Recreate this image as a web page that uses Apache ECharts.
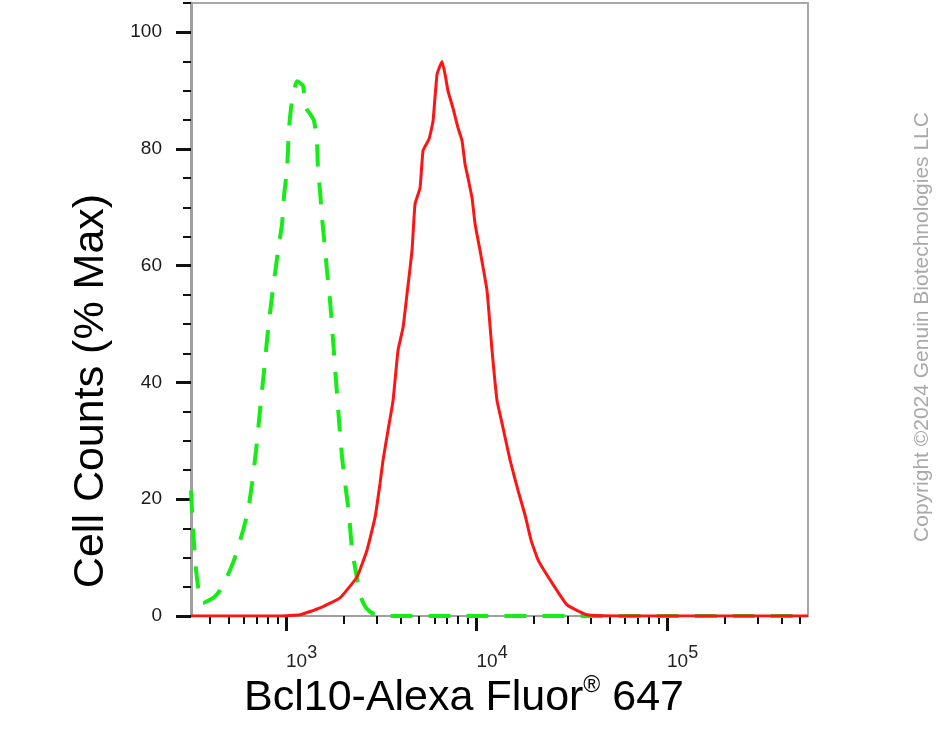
<!DOCTYPE html>
<html>
<head>
<meta charset="utf-8">
<script src="https://cdn.jsdelivr.net/npm/echarts@6/dist/echarts.min.js"></script>
<style>
html,body{margin:0;padding:0;background:#fff;}
#chart{width:951px;height:730px;}
</style>
</head>
<body>
<div id="chart"></div>
<script>
// Red (stained) histogram: fluorescence intensity vs % max
const redX = [317,508,930,1184,1508,1920,2359,2662,2933,3114,3230,3430,3645,3871,4113,4317,4585,4755,5051,5238,5632,5912,6205,6592,6834,7086,7524,7997,8393,8702,9025,9471,9820,10433,11353,12061,12811,13614,14997,16513,17973,19322,21028,24310,29860,38030,56650,148900,549600];
const redY = [0,0,0,0.2,1.4,3.1,6.7,11.3,16.9,22.7,26.7,31.8,36.9,45.5,49.4,55.2,62.6,70.6,73.3,79.7,81.7,84.8,92.8,95.0,92.8,89.9,87.0,83.6,81.4,77.4,75.0,71.6,67.2,62.6,55.7,45.5,36.9,33.0,26.7,21.5,17.3,13.0,9.6,6.2,1.9,0.2,0,0,0];
// Green (control) histogram
const greenX = [317,325,337,349,367,390,419,450,490,540,595,632,663,696,730,767,804,845,886,919,953,976,1012,1037,1075,1142,1184,1228,1274,1337,1403,1454,1471,1508,1545,1583,1641,1702,1765,1830,1897,1968,2065,2142,2221,2331,2447,2630,2933,3967,549600];
const greenY = [21.5,14.7,7.9,4.1,2.2,2.6,3.2,4.4,6.7,10.1,14.7,18.1,22.7,28.4,35.2,42.1,48.9,54.9,60.0,63.8,67.2,72.0,76.6,83.6,88.2,91.6,91.3,90.8,87.0,86.0,84.8,80.9,76.6,72.8,68.2,64.6,59.1,54.0,47.2,40.3,33.5,27.2,21.5,17.3,11.3,7.4,3.6,1.4,0.2,0,0];
// Axis ticks
const xMajorTicks = [1000, 10000, 100000];
const xMinorTicks = [400,500,600,700,800,900,2000,3000,4000,5000,6000,7000,8000,9000,20000,30000,40000,50000,60000,70000,80000,90000,200000,300000,400000,500000];
const yMajorTicks = [0, 20, 40, 60, 80, 100];
const yMinorTicks = [5,10,15,25,30,35,45,50,55,65,70,75,85,90,95,105];
const xMin = 317, xMax = 549600, yMin = 0, yMax = 105;
const xTitle = 'Bcl10-Alexa Fluor';
const yTitle = 'Cell Counts (% Max)';
const copyright = 'Copyright \u00A92024 Genuin Biotechnologies LLC';

const FONT = '"Liberation Sans", Arial, Helvetica, sans-serif';
const chart = echarts.init(document.getElementById('chart'), null, {renderer: 'canvas'});

const pairs = (xs, ys) => xs.map((x, i) => [x, ys[i]]);

const option = {
  animation: false,
  backgroundColor: '#ffffff',
  grid: {
    left: 191, top: 3, right: 143, bottom: 114,
    show: true, borderColor: '#a8a8a8', borderWidth: 2, backgroundColor: 'transparent'
  },
  xAxis: [
    {
      type: 'log', logBase: 10, min: xMin, max: xMax, position: 'bottom',
      axisLine: {show: true, lineStyle: {color: '#a0a0a0', width: 2}},
      axisTick: {show: true, customValues: xMajorTicks, length: 15, lineStyle: {color: '#111', width: 3}},
      axisLabel: {
        show: true, customValues: xMajorTicks, margin: 28, align: 'left',
        formatter: v => '{b|10}{s|' + Math.round(Math.log10(v)) + '}',
        rich: {
          b: {fontFamily: FONT, fontSize: 19, color: '#222', lineHeight: 27, verticalAlign: 'bottom'},
          s: {fontFamily: FONT, fontSize: 18, color: '#222', verticalAlign: 'top'}
        }
      },
      splitLine: {show: false}
    },
    {
      type: 'log', logBase: 10, min: xMin, max: xMax, position: 'bottom',
      axisLine: {show: false},
      axisTick: {show: true, customValues: xMinorTicks, length: 8, lineStyle: {color: '#111', width: 2}},
      axisLabel: {show: false},
      splitLine: {show: false}
    }
  ],
  yAxis: [
    {
      type: 'value', min: yMin, max: yMax, interval: 20, position: 'left',
      axisLine: {show: true, lineStyle: {color: '#a0a0a0', width: 3}},
      axisTick: {show: true, customValues: yMajorTicks, length: 15, lineStyle: {color: '#111', width: 3}},
      axisLabel: {show: true, customValues: yMajorTicks, margin: 29, fontFamily: FONT, fontSize: 19, color: '#1a1a1a'},
      splitLine: {show: false}
    },
    {
      type: 'value', min: yMin, max: yMax, interval: 5, position: 'left',
      axisLine: {show: false},
      axisTick: {show: true, customValues: yMinorTicks, length: 8, lineStyle: {color: '#111', width: 2}},
      axisLabel: {show: false},
      splitLine: {show: false}
    }
  ],
  series: [
    {
      type: 'line', xAxisIndex: 0, yAxisIndex: 0,
      data: pairs(greenX, greenY), showSymbol: false, smooth: 0.2,
      lineStyle: {color: '#16ec16', width: 4, type: [22, 16]}, z: 3
    },
    {
      type: 'line', xAxisIndex: 0, yAxisIndex: 0,
      data: pairs(redX, redY), showSymbol: false, smooth: 0.12,
      lineStyle: {color: '#ff1414', width: 3}, z: 4
    }
  ],
  graphic: [
    {
      type: 'text', x: 91, y: 391, rotation: Math.PI / 2,
      style: {text: yTitle, fontFamily: FONT, fontSize: 43, fill: '#000',
        align: 'center', verticalAlign: 'middle', textAlign: 'center', textVerticalAlign: 'middle'}
    },
    {
      type: 'text', x: 464, y: 697,
      style: {
        text: '{a|' + xTitle + '}{r|\u00AE}{a| 647}',
        fill: '#000', align: 'center', verticalAlign: 'middle', textAlign: 'center', textVerticalAlign: 'middle',
        rich: {
          a: {fontFamily: FONT, fontSize: 43, fill: '#000', color: '#000', lineHeight: 46, verticalAlign: 'bottom'},
          r: {fontFamily: FONT, fontSize: 23, fill: '#000', color: '#000', verticalAlign: 'top'}
        }
      }
    },
    {
      type: 'text', x: 922, y: 327, rotation: Math.PI / 2,
      style: {text: copyright, fontFamily: FONT, fontSize: 21, fill: '#a9a9a9',
        align: 'center', verticalAlign: 'middle', textAlign: 'center', textVerticalAlign: 'middle'}
    }
  ]
};
chart.setOption(option);
</script>
</body>
</html>
